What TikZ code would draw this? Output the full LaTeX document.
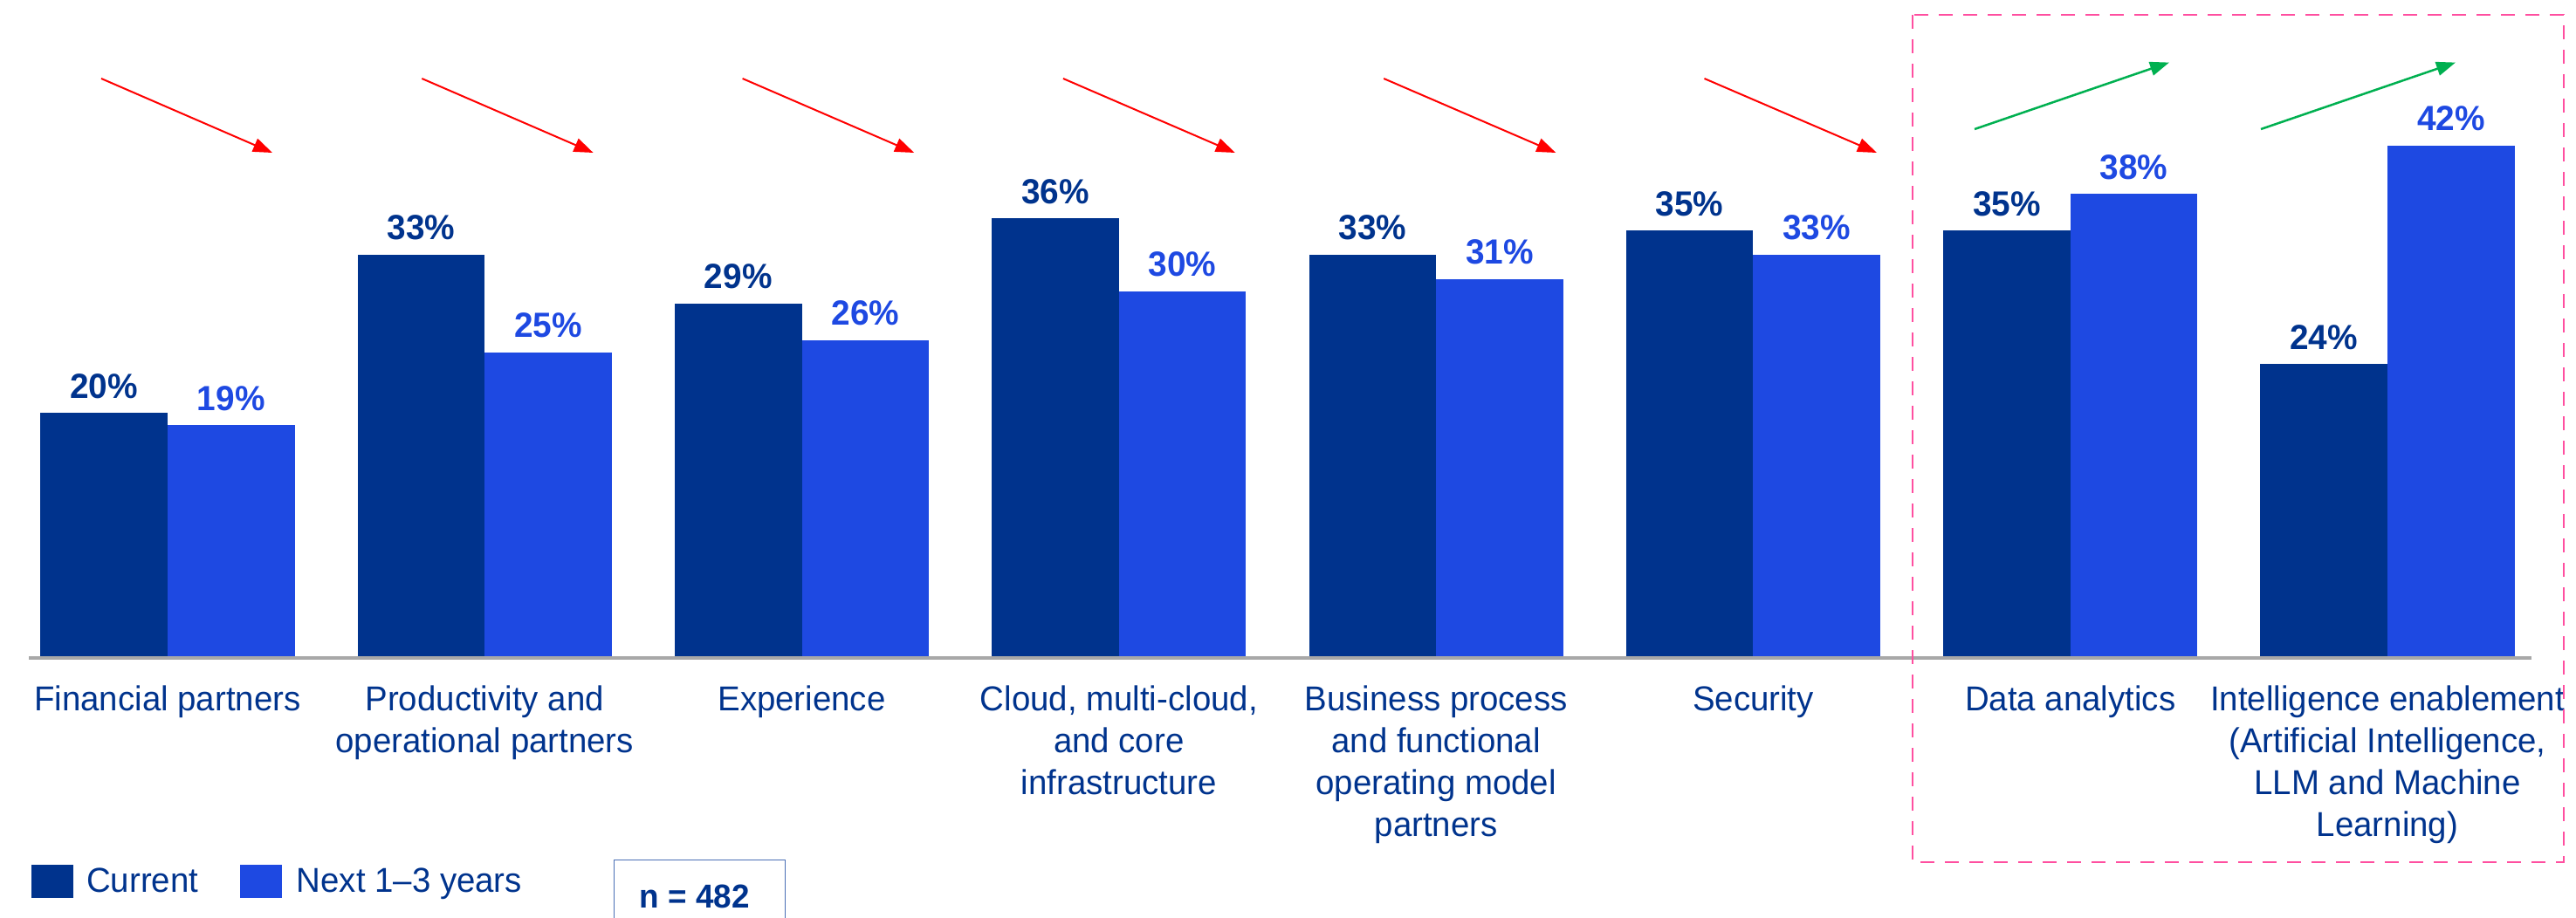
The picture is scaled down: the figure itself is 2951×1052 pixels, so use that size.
\documentclass[tikz,border=0pt]{standalone}
\usepackage{fontspec}
\setmainfont{Liberation Sans}[FakeStretch=0.97]
\usetikzlibrary{arrows.meta}
\definecolor{kdark}{HTML}{00338D}
\definecolor{kbright}{HTML}{1E49E2}
\definecolor{kaxis}{HTML}{A8A8A8}
\definecolor{kpink}{HTML}{FF4FA0}
\definecolor{kred}{HTML}{FF0000}
\definecolor{kgreen}{HTML}{00B050}
\definecolor{kboxline}{HTML}{4A6FB5}
\begin{document}
\begin{tikzpicture}[x=1pt,y=-1pt,
  lbl/.style={align=center, text=kdark, inner sep=0pt, anchor=north, font=\fontsize{39.6}{48}\selectfont},
  pctcur/.style={anchor=base, inner sep=0pt, text=kdark, font=\fontsize{40}{48}\selectfont\bfseries},
  pctnext/.style={pctcur, text=kbright},
  legtxt/.style={anchor=base west, inner sep=0pt, text=kdark, font=\fontsize{39.6}{48}\selectfont},
  barcur/.style={fill=kdark},
  barnext/.style={fill=kbright},
  downarrow/.style={draw=kred, line width=2pt, -{Triangle[length=22pt,width=16pt]}, kred},
  uparrow/.style={draw=kgreen, line width=2.5pt, -{Triangle[length=22pt,width=16pt]}, kgreen},
  focusbox/.style={draw=kpink, line width=2.5pt, dash pattern=on 16pt off 12pt},
  nbox/.style={draw=kboxline, line width=1.5pt}
]
\useasboundingbox (0,0) rectangle (2951,1052);

% bars and percentage labels
\foreach \k/\vc/\vn in {0/20/19,1/33/25,2/29/26,3/36/30,4/33/31,5/35/33,6/35/38,7/24/42}{
  \pgfmathsetmacro{\xa}{46.3+363.3*\k}
  \pgfmathsetmacro{\xb}{191.9+363.3*\k}
  \pgfmathsetmacro{\xc}{337.5+363.3*\k}
  \pgfmathsetmacro{\yc}{752-13.94*\vc}
  \pgfmathsetmacro{\yn}{752-13.94*\vn}
  \fill[barcur] (\xa,752) rectangle (\xb,\yc);
  \fill[barnext] (\xb,752) rectangle (\xc,\yn);
  \node[pctcur] (pc\k) at ({(\xa+\xb)/2},{\yc-17}) {\vc\%};
  \node[pctnext] (pn\k) at ({(\xb+\xc)/2},{\yn-17}) {\vn\%};
}

% axis
\draw[kaxis, line width=4pt] (33,754) -- (2900,754);

% category labels
\node[lbl] (l0) at (191.9,779) {\rule{0pt}{35pt}Financial partners};
\node[lbl] (l1) at (555.2,779) {\rule{0pt}{35pt}Productivity and\\operational partners};
\node[lbl] (l2) at (918.5,779) {\rule{0pt}{35pt}Experience};
\node[lbl] (l3) at (1281.8,779) {\rule{0pt}{35pt}Cloud, multi-cloud,\\and core\\infrastructure};
\node[lbl] (l4) at (1645.1,779) {\rule{0pt}{35pt}Business process\\and functional\\operating model\\partners};
\node[lbl] (l5) at (2008.4,779) {\rule{0pt}{35pt}Security};
\node[lbl] (l6) at (2371.7,779) {\rule{0pt}{35pt}Data analytics};
\node[lbl] (l7) at (2735.0,779) {\rule{0pt}{35pt}Intelligence enablement\\(Artificial Intelligence,\\LLM and Machine\\Learning)};

% trend arrows (decrease)
\foreach \k in {0,...,5}{
  \coordinate (rs\k) at ({116+367.3*\k},90);
  \coordinate (re\k) at ({312+367.6*\k},175);
  \draw[downarrow] (rs\k) -- (re\k);
}
% trend arrows (increase)
\coordinate (gs0) at (2262,148);
\coordinate (ge0) at (2485,71.6);
\coordinate (gs1) at (2590,148);
\coordinate (ge1) at (2813,71.6);
\draw[uparrow] (gs0) -- (ge0);
\draw[uparrow] (gs1) -- (ge1);

% focus box
\draw[focusbox] (2191,17) rectangle (2937,988);

% legend
\fill[barcur] (35.7,991) rectangle (83.6,1028.5);
\node[legtxt] (legc) at (99,1022.5) {Current};
\fill[barnext] (275,991) rectangle (323,1028.5);
\node[legtxt] (legn) at (339.5,1022.5) {Next 1–3 years};

% sample size box
\draw[nbox] (703.7,985.5) rectangle (899.6,1075);
\node[anchor=base, inner sep=0pt, text=kdark, font=\fontsize{38}{46}\selectfont\bfseries] (nval) at (796,1040) {n = 482};
\end{tikzpicture}
\end{document}
